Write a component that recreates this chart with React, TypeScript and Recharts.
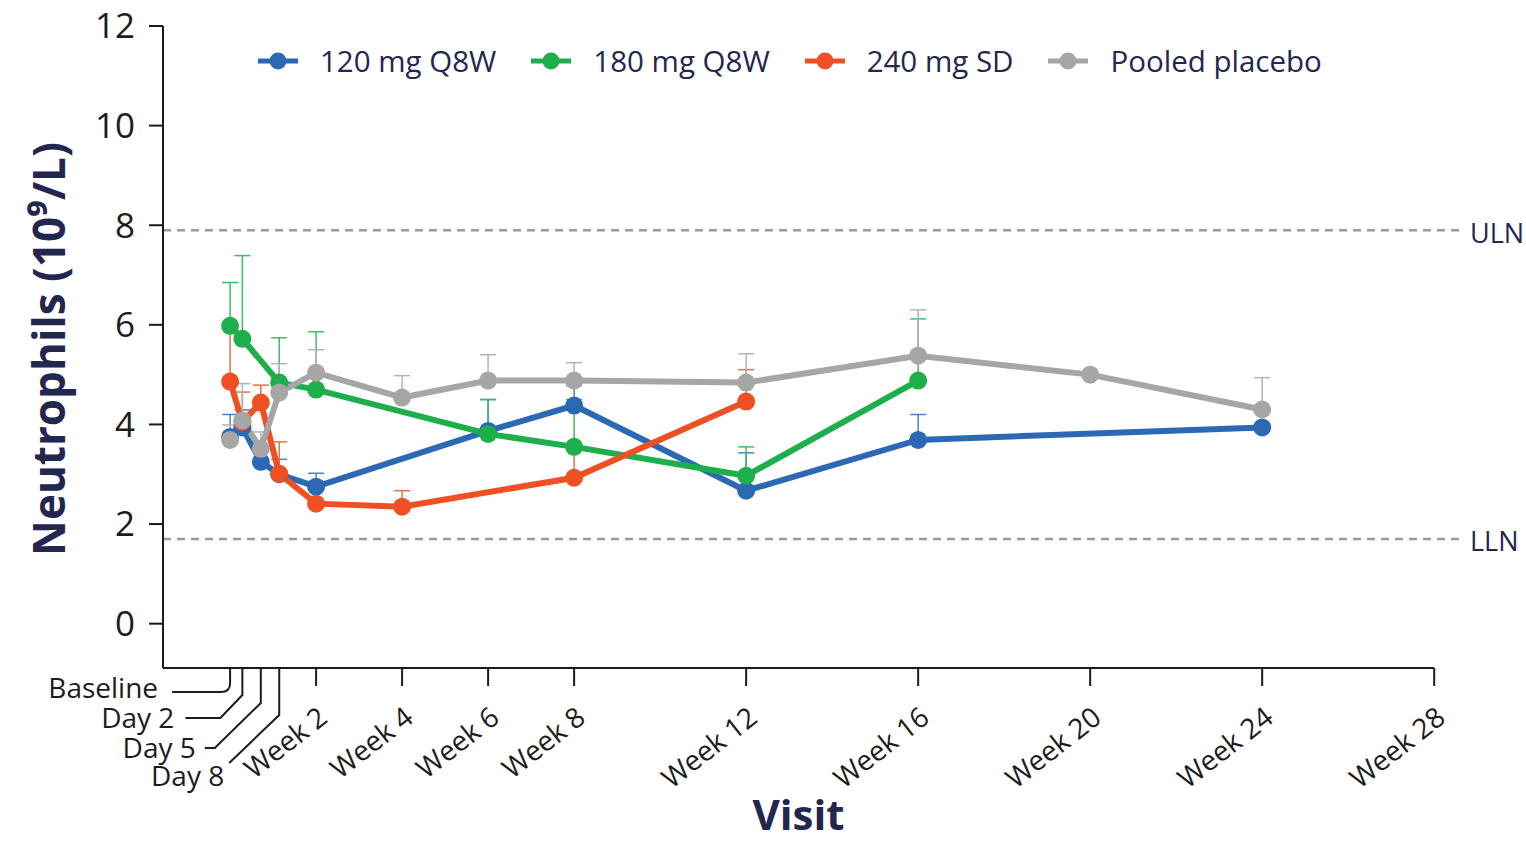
import { LineChart, Line, XAxis, YAxis, ReferenceLine, ErrorBar } from "recharts";

// visit positions in weeks from baseline
const visitWeeks = [0, 2 / 7, 5 / 7, 8 / 7, 2, 4, 6, 8, 12, 16, 20, 24];
const tickWeeks = [...visitWeeks, 28];
const tickLabels = [
  "Baseline", "Day 2", "Day 5", "Day 8", "Week 2", "Week 4", "Week 6",
  "Week 8", "Week 12", "Week 16", "Week 20", "Week 24", "Week 28",
];
const yTicks = [0, 2, 4, 6, 8, 10, 12];

// mean and upper SD, aligned with visitWeeks (null = not measured)
const mean120 = [3.75, 3.94, 3.25, 3.0, 2.75, null, 3.87, 4.38, 2.67, 3.69, null, 3.94];
const sd120 = [0.45, 0.35, 0.3, 0.3, 0.27, null, 0.63, 0.4, 0.76, 0.51, null, null];
const mean180 = [5.98, 5.72, null, 4.84, 4.7, null, 3.81, 3.55, 2.97, 4.88, null, null];
const sd180 = [0.87, 1.67, null, 0.9, 1.16, null, 0.69, 0.95, 0.58, 1.24, null, null];
const mean240 = [4.86, 4.05, 4.44, 3.01, 2.41, 2.35, null, 2.93, 4.46, null, null, null];
const sd240 = [1.05, 0.6, 0.35, 0.64, 0.3, 0.32, null, 0.6, 0.64, null, null, null];
const meanPbo = [3.69, 4.08, 3.51, 4.64, 5.04, 4.54, 4.88, 4.88, 4.84, 5.38, 5.0, 4.3];
const sdPbo = [0.3, 0.74, 0.34, 0.58, 0.46, 0.44, 0.52, 0.36, 0.58, 0.92, null, 0.64];

const ULN = 7.9;
const LLN = 1.7;

const X_MIN = -1.56;
const X_MAX = 28.6;
const Y_MIN = -0.89;

const FONT = "'Open Sans', sans-serif";
const NAVY = "#23264f";
const INK = "#1c1c1c";

const series = [
  { name: "120 mg Q8W", color: "#2c69b5", err: "#4b82c4", mean: mean120, sd: sd120 },
  { name: "180 mg Q8W", color: "#1daf4b", err: "#3fbb63", mean: mean180, sd: sd180 },
  { name: "240 mg SD", color: "#ee5024", err: "#f06d47", mean: mean240, sd: sd240 },
  { name: "Pooled placebo", color: "#a6a6a6", err: "#b3b3b3", mean: meanPbo, sd: sdPbo },
];

function buildData(mean: (number | null)[], sd: (number | null)[]) {
  return visitWeeks
    .map((w, i) =>
      mean[i] == null
        ? null
        : { week: w, value: mean[i], err: sd[i] == null ? null : [0, sd[i]] }
    )
    .filter(Boolean);
}

// leader lines for the early visits (offsets from the tick position)
const dayLeaders: Record<string, { d: (x: number, y: number) => string; tx: number; ty: number }> = {
  Baseline: {
    d: (x, y) => `M${x},${y} V${y + 15} Q${x},${y + 24} ${x - 9},${y + 24} H${x - 58}`,
    tx: -72,
    ty: 30,
  },
  "Day 2": {
    d: (x, y) => `M${x},${y} V${y + 27} L${x - 22},${y + 50} H${x - 57}`,
    tx: -68,
    ty: 60,
  },
  "Day 5": {
    d: (x, y) => `M${x},${y} V${y + 35} L${x - 46},${y + 80} H${x - 56}`,
    tx: -65,
    ty: 90,
  },
  "Day 8": {
    d: (x, y) => `M${x},${y} V${y + 47} L${x - 50},${y + 95}`,
    tx: -55,
    ty: 118,
  },
};

function VisitTick(props: any) {
  const { x, y, payload } = props;
  const i = tickWeeks.findIndex((w) => Math.abs(w - payload.value) < 1e-6);
  const label = tickLabels[i];
  const leader = dayLeaders[label];
  if (leader) {
    return (
      <g>
        <path d={leader.d(x, y)} fill="none" stroke={INK} strokeWidth={2} />
        <text x={x + leader.tx} y={y + leader.ty} textAnchor="end" fontSize={28} fill={INK} fontFamily={FONT}>
          {label}
        </text>
      </g>
    );
  }
  return (
    <g>
      <line x1={x} y1={y} x2={x} y2={y + 18} stroke={INK} strokeWidth={2} />
      <text
        x={0}
        y={0}
        transform={`translate(${x + 13},${y + 53}) rotate(-38)`}
        textAnchor="end"
        fontSize={28}
        fill={INK}
        fontFamily={FONT}
      >
        {label}
      </text>
    </g>
  );
}

function LegendRow() {
  return (
    <div
      style={{
        position: "absolute",
        left: 256,
        top: 40,
        display: "flex",
        alignItems: "center",
        fontFamily: FONT,
        fontSize: 29.5,
        color: NAVY,
      }}
    >
      {series.map((s) => (
        <div key={s.name} style={{ display: "flex", alignItems: "center", marginRight: 33 }}>
          <svg width={44} height={22} style={{ marginRight: 20 }}>
            <line x1={2} y1={11} x2={42} y2={11} stroke={s.color} strokeWidth={5} />
            <circle cx={22} cy={11} r={8.5} fill={s.color} />
          </svg>
          <span>{s.name}</span>
        </div>
      ))}
    </div>
  );
}

export default function App() {
  return (
    <div style={{ position: "absolute", left: 0, top: 0, width: 1526, height: 842, background: "#fff" }}>
      <LineChart width={1526} height={842} margin={{ top: 26, right: 66, bottom: 0, left: 0 }}>
        <XAxis
          type="number"
          dataKey="week"
          domain={[X_MIN, X_MAX]}
          ticks={tickWeeks}
          interval={0}
          tick={<VisitTick />}
          tickLine={false}
          axisLine={false}
          tickSize={0}
          tickMargin={0}
          height={174}
          allowDataOverflow
          label={(p: any) => {
            const vb = p.viewBox;
            return (
              <text
                x={vb.x + (vb.width - 26) / 2}
                y={830}
                textAnchor="middle"
                fontSize={42}
                fontWeight={700}
                fill={NAVY}
                fontFamily={FONT}
              >
                Visit
              </text>
            );
          }}
        />
        <YAxis
          type="number"
          domain={[Y_MIN, 12]}
          ticks={yTicks}
          interval={0}
          width={163}
          tickSize={14}
          tickMargin={14}
          allowDataOverflow
          axisLine={{ stroke: INK, strokeWidth: 2 }}
          tickLine={{ stroke: INK, strokeWidth: 2 }}
          tick={{ fontSize: 35, fill: INK, fontFamily: FONT }}
          label={(p: any) => {
            const vb = p.viewBox;
            return (
              <text
                transform={`translate(65,${vb.y + vb.height / 2 + 2}) rotate(-90)`}
                textAnchor="middle"
                fontSize={44}
                fontWeight={700}
                fill={NAVY}
                fontFamily={FONT}
              >
                Neutrophils (10⁹/L)
              </text>
            );
          }}
        />
        <ReferenceLine
          segment={[{ x: X_MIN, y: Y_MIN }, { x: 28, y: Y_MIN }]}
          stroke={INK}
          strokeWidth={2}
          ifOverflow="visible"
        />
        <ReferenceLine
          y={ULN}
          stroke="#9a9a9a"
          strokeWidth={2.5}
          strokeDasharray="8 6"
          label={{ value: "ULN", position: "right", fill: NAVY, fontSize: 27, fontFamily: FONT, offset: 10, dy: 3 }}
        />
        <ReferenceLine
          y={LLN}
          stroke="#9a9a9a"
          strokeWidth={2.5}
          strokeDasharray="8 6"
          label={{ value: "LLN", position: "right", fill: NAVY, fontSize: 27, fontFamily: FONT, offset: 10, dy: 2 }}
        />
        {series.map((s) => (
          <Line
            key={s.name}
            data={buildData(s.mean, s.sd)}
            dataKey="value"
            name={s.name}
            stroke={s.color}
            strokeWidth={6}
            dot={{ r: 9, fill: s.color, stroke: s.color, strokeWidth: 0 }}
            activeDot={false}
            isAnimationActive={false}
          >
            <ErrorBar dataKey="err" direction="y" width={8} stroke={s.err} strokeWidth={1.5} isAnimationActive={false} />
          </Line>
        ))}
      </LineChart>
      <LegendRow />
    </div>
  );
}
